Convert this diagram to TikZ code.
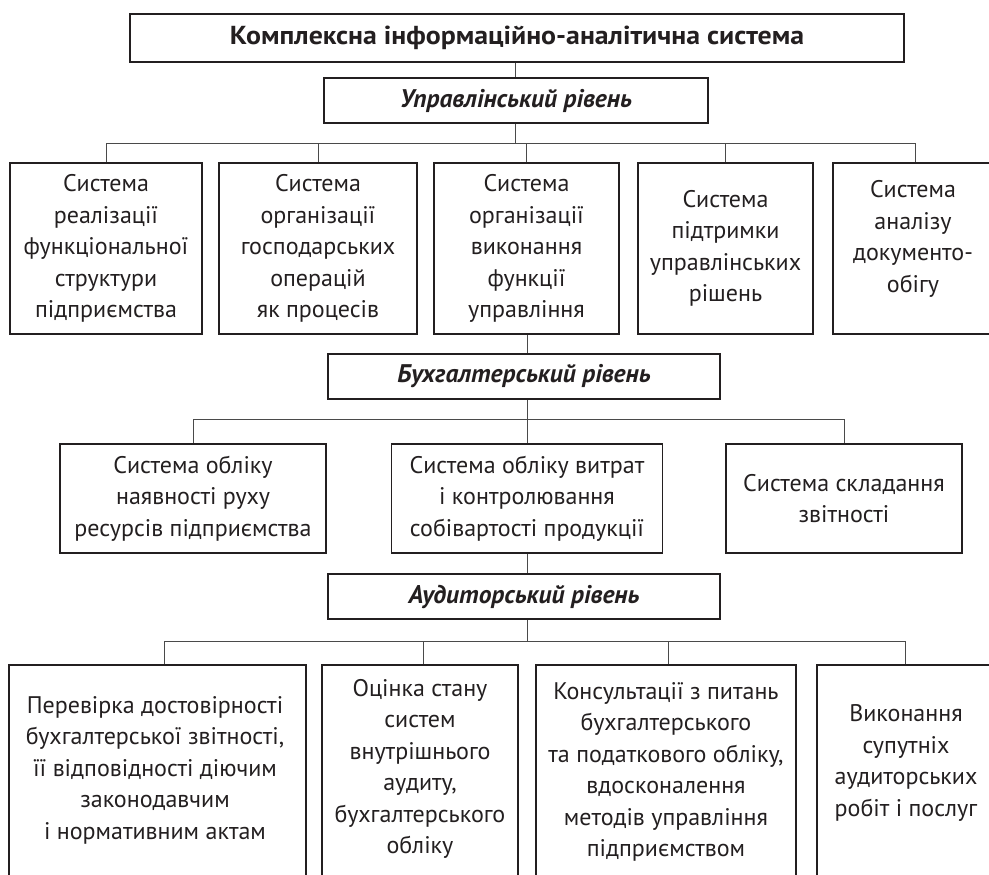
\documentclass[tikz,border=0pt]{standalone}
\usepackage{fontspec}
\setmainfont{PT Sans}
\newfontfamily\titlefont{PT Sans}[FakeStretch=1.07]
\definecolor{ink}{HTML}{231F20}
\definecolor{wirec}{HTML}{4A4A4A}
\begin{document}
\begin{tikzpicture}[x=1pt,y=-1pt,
  box/.style={draw=ink, line width=1.5pt, inner sep=0pt, text=ink, align=center,
    font=\fontsize{24}{31.5}\selectfont},
  txt/.style={inner sep=0pt, text=ink, align=center, font=\fontsize{24}{31.5}\selectfont},
  lvl/.style={box, minimum height=45pt, font=\bfseries\itshape\fontsize{25.5}{28}\selectfont},
  wire/.style={draw=wirec, line width=1pt}]
\useasboundingbox (0,0) rectangle (989,875);
\clip (0,0) rectangle (989,875);

% top
\node[box, minimum width=774pt, minimum height=48pt, font=\titlefont\bfseries\fontsize{26}{28}\selectfont]
  (top) at (517,38) {Комплексна інформаційно-аналітична система};
\node[lvl, minimum width=384pt] (upr) at (516,100.5) {Управлінський рівень};

% row 1
\node[box, minimum width=192pt, minimum height=171pt] (b1) at (106,248.5)
  {Система\\реалізації\\функціональної\\структури\\підприємства};
\node[box, minimum width=198pt, minimum height=171pt] (b2) at (318,248.5)
  {Система\\організації\\господарських\\операцій\\як процесів};
\node[box, minimum width=185pt, minimum height=171pt] (b3) at (526.5,248.5)
  {Система\\організації\\виконання\\функції\\управління};
\node[box, minimum width=175pt, minimum height=171pt] (b4) at (725.5,248.5)
  {Система\\підтримки\\управлінських\\рішень};
\node[box, minimum width=164pt, minimum height=171pt] (b5) at (915,248.5) {};
\node[txt] (b5t) at (913,239) {Система\\аналізу\\документо-\\обігу};

\coordinate (h1) at (515,143);
\draw[wire] (top.south -| h1) -- (upr.north -| h1);
\draw[wire] (upr.south -| h1) -- (h1);
\draw[wire] (b1.north) -- (b1.north |- h1) -- (b5.north |- h1) -- (b5.north);
\draw[wire] (b2.north) -- (b2.north |- h1);
\draw[wire] (b3.north) -- (b3.north |- h1);
\draw[wire] (b4.north) -- (b4.north |- h1);

% level 2
\node[lvl, minimum width=392pt] (buh) at (524,376.5) {Бухгалтерський рівень};
\coordinate (h2) at (527,419);
\draw[wire] (b3.south -| h2) -- (buh.north -| h2);
\draw[wire] (buh.south -| h2) -- (h2);

\node[box, minimum width=266pt, minimum height=109pt] (c1) at (193,498.5)
  {Система обліку\\наявності руху\\ресурсів підприємства};
\node[box, minimum width=271pt, minimum height=109pt] (c2) at (527,498.5)
  {Система обліку витрат\\і контролювання\\собівартості продукції};
\node[box, minimum width=236pt, minimum height=109pt] (c3) at (844,498.5)
  {Система складання\\звітності};
\draw[wire] (c1.north) -- (c1.north |- h2) -- (c3.north |- h2) -- (c3.north);
\draw[wire] (c2.north) -- (c2.north |- h2);

% level 3
\node[lvl, minimum width=392pt] (aud) at (524,596.5) {Аудиторський рівень};
\coordinate (h3) at (527,641);
\draw[wire] (c2.south -| h3) -- (aud.north -| h3);
\draw[wire] (aud.south -| h3) -- (h3);

\node[box, minimum width=297pt, minimum height=240pt] (d1) at (157.5,785) {};
\node[box, minimum width=196pt, minimum height=240pt] (d2) at (420,785) {};
\node[box, minimum width=260pt, minimum height=240pt] (d3) at (666,785) {};
\node[box, minimum width=176pt, minimum height=240pt] (d4) at (905,785) {};
\node[txt] (d1t) at (155,770)
  {Перевірка достовірності\\бухгалтерської звітності,\\її відповідності діючим\\законодавчим\\і нормативним актам};
\node[txt] (d2t) at (420,769)
  {Оцінка стану\\систем\\внутрішнього\\аудиту,\\бухгалтерського\\обліку};
\node[txt] (d3t) at (666,772)
  {Консультації з питань\\бухгалтерського\\та податкового обліку,\\вдосконалення\\методів управління\\підприємством};
\node[txt] (d4t) at (906,763)
  {Виконання\\супутніх\\аудиторських\\робіт і послуг};

\coordinate (k1) at (164,641);
\coordinate (k2) at (423,641);
\coordinate (k3) at (668,641);
\coordinate (k4) at (905,641);
\draw[wire] (k1 |- d1.north) -- (k1) -- (k4) -- (k4 |- d4.north);
\draw[wire] (k2) -- (k2 |- d2.north);
\draw[wire] (k3) -- (k3 |- d3.north);
\end{tikzpicture}
\end{document}
